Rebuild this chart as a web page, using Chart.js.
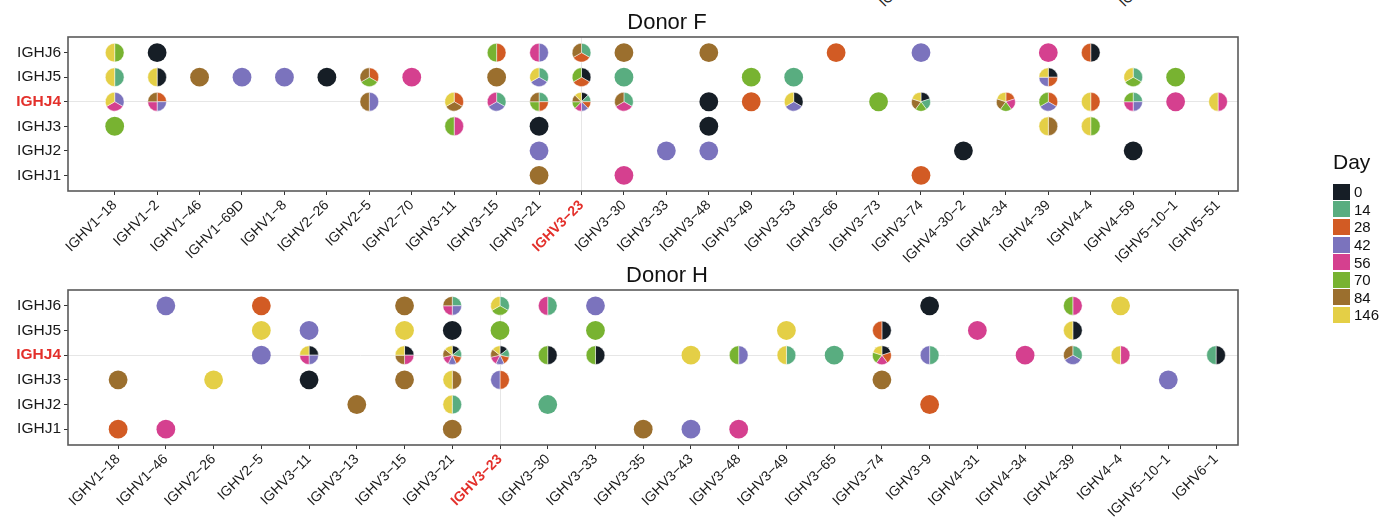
<!DOCTYPE html>
<html>
<head>
<meta charset="utf-8">
<script src="https://cdn.jsdelivr.net/npm/chart.js@4"></script>
<style>
  body { margin: 0; background: #fff; width: 1382px; height: 529px; overflow: hidden; position: relative;
         font-family: "Liberation Sans", Arial, sans-serif; color: #111; }
  .panel { position: absolute; left: 0; }
  #legend { position: absolute; left: 1333px; top: 150px; }
  #legend .lt { font-size: 21px; height: 33px; line-height: 24px; }
  #legend .row { height: 17.6px; display: flex; align-items: center; font-size: 15px; }
  #legend .sw { width: 17px; height: 16px; margin-right: 4px; display: inline-block; }
  .cut { position: absolute; font-size: 14px; line-height: 14px; transform-origin: left bottom; transform: rotate(-45deg); white-space: nowrap; color: #222; }
</style>
</head>
<body>
<span class="cut" style="left:886px;top:-5px">IGHV3−9</span>
<span class="cut" style="left:1126px;top:-5px">IGHV4−4</span>
<div class="panel" style="top:0"><canvas id="donorF" width="1382" height="265"></canvas></div>
<div class="panel" style="top:253px"><canvas id="donorH" width="1382" height="276"></canvas></div>
<div id="legend"></div>
<script>
    const days = [0, 14, 28, 42, 56, 70, 84, 146];
    const dayColors = ['#161e26', '#59ad80', '#d25b24', '#7b73bd', '#d5408f', '#78b331', '#9b6f2e', '#e4cf46'];

    // bottom to top
    const jGenes = ['IGHJ1', 'IGHJ2', 'IGHJ3', 'IGHJ4', 'IGHJ5', 'IGHJ6'];
    const highlightJ = 'IGHJ4';
    const highlightV = 'IGHV3−23';

    const donorFGenes = ['IGHV1−18', 'IGHV1−2', 'IGHV1−46', 'IGHV1−69D', 'IGHV1−8', 'IGHV2−26', 'IGHV2−5',
        'IGHV2−70', 'IGHV3−11', 'IGHV3−15', 'IGHV3−21', 'IGHV3−23', 'IGHV3−30', 'IGHV3−33', 'IGHV3−48',
        'IGHV3−49', 'IGHV3−53', 'IGHV3−66', 'IGHV3−73', 'IGHV3−74', 'IGHV4−30−2', 'IGHV4−34', 'IGHV4−39',
        'IGHV4−4', 'IGHV4−59', 'IGHV5−10−1', 'IGHV5−51'];

    // [V gene, J gene, days seen]
    const donorFPoints = [
        ['IGHV1−18', 'IGHJ6', [70, 146]], ['IGHV1−18', 'IGHJ5', [14, 146]],
        ['IGHV1−18', 'IGHJ4', [42, 56, 146]], ['IGHV1−18', 'IGHJ3', [70]],
        ['IGHV1−2', 'IGHJ6', [0]], ['IGHV1−2', 'IGHJ5', [0, 146]], ['IGHV1−2', 'IGHJ4', [28, 42, 56, 84]],
        ['IGHV1−46', 'IGHJ5', [84]], ['IGHV1−69D', 'IGHJ5', [42]], ['IGHV1−8', 'IGHJ5', [42]],
        ['IGHV2−26', 'IGHJ5', [0]], ['IGHV2−5', 'IGHJ5', [28, 70, 84]], ['IGHV2−5', 'IGHJ4', [42, 84]],
        ['IGHV2−70', 'IGHJ5', [56]],
        ['IGHV3−11', 'IGHJ4', [28, 84, 146]], ['IGHV3−11', 'IGHJ3', [56, 70]],
        ['IGHV3−15', 'IGHJ6', [28, 70]], ['IGHV3−15', 'IGHJ5', [84]], ['IGHV3−15', 'IGHJ4', [14, 42, 56]],
        ['IGHV3−21', 'IGHJ6', [42, 56]], ['IGHV3−21', 'IGHJ5', [14, 42, 146]],
        ['IGHV3−21', 'IGHJ4', [14, 28, 70, 84]], ['IGHV3−21', 'IGHJ3', [0]],
        ['IGHV3−21', 'IGHJ2', [42]], ['IGHV3−21', 'IGHJ1', [84]],
        ['IGHV3−23', 'IGHJ6', [14, 28, 84]], ['IGHV3−23', 'IGHJ5', [0, 28, 70]],
        ['IGHV3−23', 'IGHJ4', [0, 14, 28, 42, 56, 70, 84, 146]],
        ['IGHV3−30', 'IGHJ6', [84]], ['IGHV3−30', 'IGHJ5', [14]], ['IGHV3−30', 'IGHJ4', [14, 56, 84]],
        ['IGHV3−30', 'IGHJ1', [56]],
        ['IGHV3−33', 'IGHJ2', [42]],
        ['IGHV3−48', 'IGHJ6', [84]], ['IGHV3−48', 'IGHJ4', [0]], ['IGHV3−48', 'IGHJ3', [0]],
        ['IGHV3−48', 'IGHJ2', [42]],
        ['IGHV3−49', 'IGHJ5', [70]], ['IGHV3−49', 'IGHJ4', [28]],
        ['IGHV3−53', 'IGHJ5', [14]], ['IGHV3−53', 'IGHJ4', [0, 42, 146]],
        ['IGHV3−66', 'IGHJ6', [28]], ['IGHV3−73', 'IGHJ4', [70]],
        ['IGHV3−74', 'IGHJ6', [42]], ['IGHV3−74', 'IGHJ4', [0, 14, 70, 84, 146]], ['IGHV3−74', 'IGHJ1', [28]],
        ['IGHV4−30−2', 'IGHJ2', [0]],
        ['IGHV4−34', 'IGHJ4', [28, 56, 70, 84, 146]],
        ['IGHV4−39', 'IGHJ6', [56]], ['IGHV4−39', 'IGHJ5', [0, 28, 42, 146]],
        ['IGHV4−39', 'IGHJ4', [28, 42, 70]], ['IGHV4−39', 'IGHJ3', [84, 146]],
        ['IGHV4−4', 'IGHJ6', [0, 28]], ['IGHV4−4', 'IGHJ4', [28, 146]], ['IGHV4−4', 'IGHJ3', [70, 146]],
        ['IGHV4−59', 'IGHJ5', [14, 70, 146]], ['IGHV4−59', 'IGHJ4', [14, 42, 56, 70]], ['IGHV4−59', 'IGHJ2', [0]],
        ['IGHV5−10−1', 'IGHJ5', [70]], ['IGHV5−10−1', 'IGHJ4', [56]],
        ['IGHV5−51', 'IGHJ4', [56, 146]]
    ];

    const donorHGenes = ['IGHV1−18', 'IGHV1−46', 'IGHV2−26', 'IGHV2−5', 'IGHV3−11', 'IGHV3−13', 'IGHV3−15',
        'IGHV3−21', 'IGHV3−23', 'IGHV3−30', 'IGHV3−33', 'IGHV3−35', 'IGHV3−43', 'IGHV3−48', 'IGHV3−49',
        'IGHV3−65', 'IGHV3−74', 'IGHV3−9', 'IGHV4−31', 'IGHV4−34', 'IGHV4−39', 'IGHV4−4', 'IGHV5−10−1', 'IGHV6−1'];

    const donorHPoints = [
        ['IGHV1−18', 'IGHJ3', [84]], ['IGHV1−18', 'IGHJ1', [28]],
        ['IGHV1−46', 'IGHJ6', [42]], ['IGHV1−46', 'IGHJ1', [56]],
        ['IGHV2−26', 'IGHJ3', [146]],
        ['IGHV2−5', 'IGHJ6', [28]], ['IGHV2−5', 'IGHJ5', [146]], ['IGHV2−5', 'IGHJ4', [42]],
        ['IGHV3−11', 'IGHJ5', [42]], ['IGHV3−11', 'IGHJ4', [0, 42, 56, 146]], ['IGHV3−11', 'IGHJ3', [0]],
        ['IGHV3−13', 'IGHJ2', [84]],
        ['IGHV3−15', 'IGHJ6', [84]], ['IGHV3−15', 'IGHJ5', [146]], ['IGHV3−15', 'IGHJ4', [0, 56, 84, 146]],
        ['IGHV3−15', 'IGHJ3', [84]],
        ['IGHV3−21', 'IGHJ6', [14, 42, 56, 84]], ['IGHV3−21', 'IGHJ5', [0]],
        ['IGHV3−21', 'IGHJ4', [0, 14, 28, 42, 56, 84, 146]], ['IGHV3−21', 'IGHJ3', [84, 146]],
        ['IGHV3−21', 'IGHJ2', [14, 146]], ['IGHV3−21', 'IGHJ1', [84]],
        ['IGHV3−23', 'IGHJ6', [14, 70, 146]], ['IGHV3−23', 'IGHJ5', [70]],
        ['IGHV3−23', 'IGHJ4', [0, 14, 28, 42, 56, 84, 146]], ['IGHV3−23', 'IGHJ3', [28, 42]],
        ['IGHV3−30', 'IGHJ6', [14, 56]], ['IGHV3−30', 'IGHJ4', [0, 70]], ['IGHV3−30', 'IGHJ2', [14]],
        ['IGHV3−33', 'IGHJ6', [42]], ['IGHV3−33', 'IGHJ5', [70]], ['IGHV3−33', 'IGHJ4', [0, 70]],
        ['IGHV3−35', 'IGHJ1', [84]],
        ['IGHV3−43', 'IGHJ4', [146]], ['IGHV3−43', 'IGHJ1', [42]],
        ['IGHV3−48', 'IGHJ4', [42, 70]], ['IGHV3−48', 'IGHJ1', [56]],
        ['IGHV3−49', 'IGHJ5', [146]], ['IGHV3−49', 'IGHJ4', [14, 146]],
        ['IGHV3−65', 'IGHJ4', [14]],
        ['IGHV3−74', 'IGHJ5', [0, 28]], ['IGHV3−74', 'IGHJ4', [0, 28, 56, 70, 146]], ['IGHV3−74', 'IGHJ3', [84]],
        ['IGHV3−9', 'IGHJ6', [0]], ['IGHV3−9', 'IGHJ4', [14, 42]], ['IGHV3−9', 'IGHJ2', [28]],
        ['IGHV4−31', 'IGHJ5', [56]], ['IGHV4−34', 'IGHJ4', [56]],
        ['IGHV4−39', 'IGHJ6', [56, 70]], ['IGHV4−39', 'IGHJ5', [0, 146]], ['IGHV4−39', 'IGHJ4', [14, 42, 84]],
        ['IGHV4−4', 'IGHJ6', [146]], ['IGHV4−4', 'IGHJ4', [56, 146]],
        ['IGHV5−10−1', 'IGHJ3', [42]],
        ['IGHV6−1', 'IGHJ4', [0, 14]]
    ];

    const FONT = '"Liberation Sans", Arial, sans-serif';
    const RED = '#e3302b';
    const PIE_R = 9.4;

    function drawPie(ctx, x, y, r, list) {
        const sorted = [...list].sort((a, b) => a - b);
        const step = Math.PI * 2 / sorted.length;
        let a = -Math.PI / 2;
        sorted.forEach(d => {
            ctx.beginPath();
            if (sorted.length === 1) {
                ctx.arc(x, y, r, 0, Math.PI * 2);
            } else {
                ctx.moveTo(x, y);
                ctx.arc(x, y, r, a, a + step);
                ctx.closePath();
            }
            ctx.fillStyle = dayColors[days.indexOf(d)];
            ctx.fill();
            if (sorted.length > 1) {
                ctx.strokeStyle = 'rgba(255,255,255,0.8)';
                ctx.lineWidth = 0.6;
                ctx.stroke();
            }
            a += step;
        });
    }

    const piePlugin = {
        id: 'pies',
        afterDatasetsDraw(chart) {
            const ctx = chart.ctx;
            const meta = chart.getDatasetMeta(0);
            const data = chart.data.datasets[0].data;
            ctx.save();
            meta.data.forEach((el, i) => drawPie(ctx, el.x, el.y, PIE_R, data[i].days));
            ctx.restore();
        }
    };

    // frame round the panel and the panel title, centred as in the figure
    const boxPlugin = {
        id: 'box',
        afterDraw(chart, args, opts) {
            const { left, top, right, bottom } = chart.chartArea;
            const ctx = chart.ctx;
            ctx.save();
            ctx.strokeStyle = '#5a5a5a';
            ctx.lineWidth = 1.6;
            ctx.strokeRect(left, top, right - left, bottom - top);
            ctx.fillStyle = '#111';
            ctx.font = '22px ' + FONT;
            ctx.textAlign = 'center';
            ctx.textBaseline = 'alphabetic';
            ctx.fillText(opts.text, (left + right) / 2 + 14, top - 8);
            ctx.restore();
        }
    };

    function makeChart(id, title, genes, points, xLeftPad, xRightPad, xAxisHeight) {
        const hi = genes.indexOf(highlightV);
        const hj = jGenes.indexOf(highlightJ);
        return new Chart(document.getElementById(id), {
            type: 'scatter',
            data: {
                datasets: [{
                    data: points.map(p => ({ x: genes.indexOf(p[0]), y: jGenes.indexOf(p[1]), days: p[2] })),
                    pointRadius: 0,
                    pointHoverRadius: 0
                }]
            },
            options: {
                responsive: false,
                animation: false,
                events: [],
                layout: { padding: { left: 0, right: 144, top: 37, bottom: 0 } },
                plugins: {
                    legend: { display: false },
                    tooltip: { enabled: false },
                    title: { display: false },
                    box: { text: title }
                },
                scales: {
                    x: {
                        type: 'linear',
                        min: -xLeftPad,
                        max: genes.length - 1 + xRightPad,
                        afterBuildTicks: s => { s.ticks = genes.map((g, i) => ({ value: i })); },
                        afterFit: s => { s.height = xAxisHeight; s.paddingLeft = 0; s.paddingRight = 0; },
                        border: { display: false },
                        grid: {
                            color: c => (c.tick && c.tick.value === hi) ? '#e6e6e6' : 'rgba(0,0,0,0)',
                            tickColor: '#333', tickLength: 4, lineWidth: 1
                        },
                        ticks: {
                            autoSkip: false, minRotation: 45, maxRotation: 45, padding: 2,
                            callback: v => genes[v],
                            color: c => (c.tick && c.tick.value === hi) ? RED : '#1a1a1a',
                            font: c => ({ family: FONT, size: 14, weight: (c.tick && c.tick.value === hi) ? 'bold' : 'normal' })
                        }
                    },
                    y: {
                        type: 'linear',
                        min: -0.64,
                        max: jGenes.length - 1 + 0.64,
                        afterBuildTicks: s => { s.ticks = jGenes.map((g, i) => ({ value: i })); },
                        afterFit: s => { s.width = 68; s.paddingTop = 0; s.paddingBottom = 0; },
                        border: { display: false },
                        grid: {
                            color: c => (c.tick && c.tick.value === hj) ? '#e6e6e6' : 'rgba(0,0,0,0)',
                            tickColor: '#333', tickLength: 4, lineWidth: 1
                        },
                        ticks: {
                            padding: 3,
                            callback: v => jGenes[v],
                            color: c => (c.tick && c.tick.value === hj) ? RED : '#1a1a1a',
                            font: c => ({ family: FONT, size: 15.5, weight: (c.tick && c.tick.value === hj) ? 'bold' : 'normal' })
                        }
                    }
                }
            },
            plugins: [piePlugin, boxPlugin]
        });
    }

    makeChart('donorF', 'Donor F', donorFGenes, donorFPoints, 1.1, 0.47, 74);
    makeChart('donorH', 'Donor H', donorHGenes, donorHPoints, 1.05, 0.46, 84);

    document.getElementById('legend').innerHTML = '<div class="lt">Day</div>' + days.map((d, i) =>
        `<div class="row"><span class="sw" style="background:${dayColors[i]}"></span>${d}</div>`).join('');
</script>
</body>
</html>
